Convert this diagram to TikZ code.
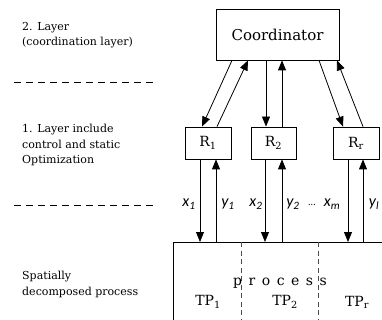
\documentclass[tikz,border=0pt]{standalone}
\usepackage{fontspec}
\setmainfont{DejaVu Serif}
\newfontfamily\varfont{Carlito}
\usetikzlibrary{arrows.meta}
\tikzset{
    box/.style={draw, line width=0.8pt, inner sep=0pt},
    arr/.style={line width=0.8pt, -{Triangle[length=10pt,width=8pt]}},
    sep/.style={line width=0.8pt, dash pattern=on 7pt off 5pt},
    cut/.style={line width=0.8pt, black!70, dash pattern=on 5pt off 3.5pt},
    side/.style={anchor=west, align=left, inner sep=0pt, font=\fontsize{11}{15.5}\selectfont},
    var/.style={inner sep=0pt, font=\varfont\itshape\fontsize{16}{16}\selectfont},
    part/.style={inner sep=0pt, font=\fontsize{14}{14}\selectfont}
}
\begin{document}
\begin{tikzpicture}[x=1pt, y=-1pt]
                \useasboundingbox (0,0) rectangle (382,320);

                \node[side] (lay2) at (22,35) {2. Layer\\(coordination layer)};
                \node[side] (lay1) at (22,145) {1. Layer include\\control and static\\Optimization};
                \node[side] (lay0) at (22,284.5) {Spatially\\decomposed process};
                \draw[sep] (14,82) -- (153,82);
                \draw[sep] (14,205) -- (153,205);

                \node[box, minimum width=123pt, minimum height=51pt, font=\fontsize{15}{15}\selectfont] (coord) at (277.5,34.5) {Coordinator};
                \node[box, minimum width=46pt, minimum height=32pt, font=\fontsize{14}{14}\selectfont] (r1) at (208,143) {R\textsubscript{1}};
                \node[box, minimum width=45pt, minimum height=32pt, font=\fontsize{14}{14}\selectfont] (r2) at (273.5,143) {R\textsubscript{2}};
                \node[box, minimum width=46pt, minimum height=32pt, font=\fontsize{14}{14}\selectfont] (rr) at (356,143) {R\textsubscript{r}};
                \node[box, anchor=north west, minimum width=230pt, minimum height=100pt] (proc) at (173,242) {};

                \draw[arr] ([xshift=-45.5pt]coord.south) -- ([xshift=-6pt]r1.north);
                \draw[arr] ([xshift=9pt]r1.north) -- ([xshift=-29.5pt]coord.south);
                \draw[arr] ([xshift=-11.5pt]coord.south) -- ([xshift=-7.5pt]r2.north);
                \draw[arr] ([xshift=8.5pt]r2.north) -- ([xshift=4.5pt]coord.south);
                \draw[arr] ([xshift=41.5pt]coord.south) -- ([xshift=-13pt]rr.north);
                \draw[arr] ([xshift=7pt]rr.north) -- ([xshift=59.5pt]coord.south);

                \draw[arr] ([xshift=-8pt]r1.south) -- ([xshift=-8pt]r1.south |- proc.north);
                \draw[arr] ([xshift=8pt]r1.south |- proc.north) -- ([xshift=8pt]r1.south);
                \draw[arr] ([xshift=-8.5pt]r2.south) -- ([xshift=-8.5pt]r2.south |- proc.north);
                \draw[arr] ([xshift=8.5pt]r2.south |- proc.north) -- ([xshift=8.5pt]r2.south);
                \draw[arr] ([xshift=-8pt]rr.south) -- ([xshift=-8pt]rr.south |- proc.north);
                \draw[arr] ([xshift=7pt]rr.south |- proc.north) -- ([xshift=7pt]rr.south);

                \node[var] (x1) at (189,204) {x\textsubscript{1}};
                \node[var] (y1) at (228,204) {y\textsubscript{1}};
                \node[var] (x2) at (256,204) {x\textsubscript{2}};
                \node[var] (y2) at (293,204) {y\textsubscript{2}};
                \node[var, font=\varfont\fontsize{10}{10}\selectfont] (dots) at (312,205) {...};
                \node[var] (xm) at (332,204) {x\textsubscript{m}};
                \node[var] (yl) at (374,204) {y\textsubscript{l}};

                \draw[cut] (241,242) -- (241,320);
                \draw[cut] (318,242) -- (318,320);

                \node[part] (pname) at (280,283) {\spaceskip=6.5pt\relax p r o c e s s};
                \node[part] (tp1) at (208,302) {TP\textsubscript{1}};
                \node[part] (tp2) at (285,302) {TP\textsubscript{2}};
                \node[part] (tpr) at (357,302) {TP\textsubscript{r}};
            \end{tikzpicture}
\end{document}
